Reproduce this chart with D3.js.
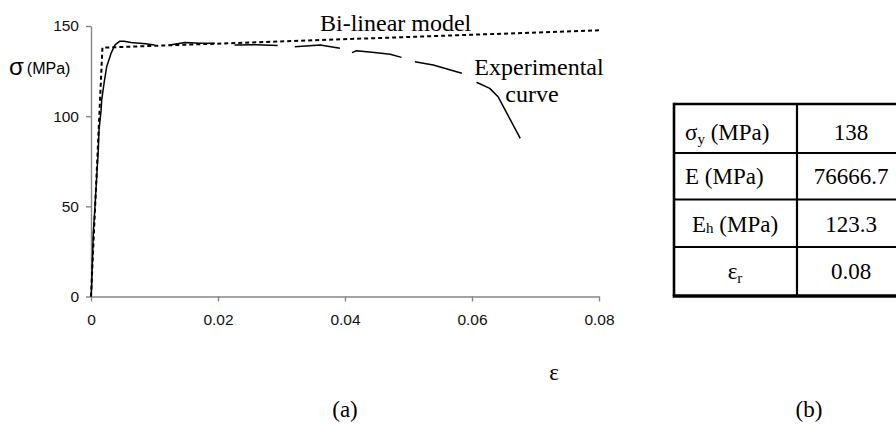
<!DOCTYPE html>
<html>
<head>
<meta charset="utf-8">
<script src="https://cdn.jsdelivr.net/npm/d3@7"></script>
<style>
  body { margin: 0; background: #fff; }
  svg { display: block; }
  .tick text { font-family: "Liberation Sans", Arial, sans-serif; font-size: 15.5px; fill: #111; }
  .serif { font-family: "Liberation Serif", "Times New Roman", serif; fill: #000; }
</style>
</head>
<body>
<div id="image"></div>
<script>
// courbe experimentale (null = coupure dans le trait)
var expStrain = [0, 0.0001, 0.00036, 0.00063, 0.0009, 0.00115, 0.00126, 0.00157, 0.00169, 0.00205, 0.00247, 0.00315, 0.00378, 0.0045, 0.0052, 0.0063, 0.0086, 0.0100,
                 null,
                 0.0124, 0.0148, 0.0172, 0.0195,
                 null,
                 0.0226, 0.0260, 0.0294,
                 null,
                 0.0321, 0.0361, 0.0392,
                 null,
                 0.0411, 0.0418, 0.0450, 0.0471, 0.0489,
                 null,
                 0.0510, 0.0539, 0.0584,
                 null,
                 0.0607, 0.0628, 0.0641, 0.0676];
var expStress = [0, 5.4, 35, 49.8, 66.4, 81.1, 92.3, 102.5, 109, 118.2, 127.4, 134.8, 139.5, 141.5, 141.6, 140.8, 140.2, 139.5,
                 null,
                 139.5, 140.8, 140.5, 140.4,
                 null,
                 139.5, 139.6, 139.2,
                 null,
                 138.5, 139.5, 137.6,
                 null,
                 135.2, 136.3, 135.2, 134.3, 132.6,
                 null,
                 130.2, 128.4, 123.8,
                 null,
                 118.8, 115.4, 110.8, 87.7];

// modele bi-lineaire
var bilStrain = [0, 0.0018, 0.08];
var bilStress = [0, 138, 147.6];

var xTicks = [0, 0.02, 0.04, 0.06, 0.08];
var xTickLabels = ["0", "0.02", "0.04", "0.06", "0.08"];
var yTicks = [0, 50, 100, 150];

// tableau (b)
var paramNames = [["σ", "y", " (MPa)"], ["E", "", " (MPa)"], ["E", "h", " (MPa)"], ["ε", "r", ""]];
var paramValues = ["138", "76666.7", "123.3", "0.08"];

var svg = d3.select("#image").append("svg").attr("width", 896).attr("height", 424);

var x = d3.scaleLinear().domain([0, 0.08]).range([91, 599]);
var y = d3.scaleLinear().domain([0, 150]).range([296.5, 26]);

// axe x
var gx = svg.append("g")
    .attr("transform", "translate(0," + y(0) + ")")
    .call(d3.axisBottom(x).tickValues(xTicks).tickFormat(function(d, i) { return xTickLabels[i]; })
        .tickSizeInner(5).tickSizeOuter(0).tickPadding(12));
gx.select(".domain").attr("stroke", "#858585").attr("stroke-width", 1.4);
gx.selectAll(".tick line").attr("stroke", "#858585").attr("stroke-width", 1.4);

// axe y
var gy = svg.append("g")
    .attr("transform", "translate(" + x(0) + ",0)")
    .call(d3.axisLeft(y).tickValues(yTicks).tickSizeInner(5).tickSizeOuter(0).tickPadding(7));
gy.select(".domain").attr("stroke", "#858585").attr("stroke-width", 1.4);
gy.selectAll(".tick line").attr("stroke", "#858585").attr("stroke-width", 1.4);

// titres des axes
var sl = svg.append("text").attr("x", 9).attr("y", 75)
    .style("font-family", "'Liberation Sans', Arial, sans-serif");
sl.append("tspan").style("font-size", "24px").text("σ");
sl.append("tspan").attr("dx", 3).attr("dy", -1).style("font-size", "16px").text("(MPa)");

svg.append("text").attr("class", "serif")
    .attr("x", 554).attr("y", 380).style("font-size", "23px")
    .attr("text-anchor", "middle").text("ε");

// courbes
var expData = expStrain.map(function(d, i) { return {e: d, s: expStress[i]}; });
var bilData = bilStrain.map(function(d, i) { return {e: d, s: bilStress[i]}; });

var line = d3.line()
    .defined(function(d) { return d.s !== null; })
    .x(function(d) { return x(d.e); })
    .y(function(d) { return y(d.s); });

svg.append("path").datum(bilData)
    .attr("d", line)
    .attr("fill", "none").attr("stroke", "#000")
    .attr("stroke-width", 2).attr("stroke-dasharray", "4,3");

svg.append("path").datum(expData)
    .attr("d", line)
    .attr("fill", "none").attr("stroke", "#000")
    .attr("stroke-width", 1.5).attr("stroke-linejoin", "round");

// annotations
svg.append("text").attr("class", "serif").attr("x", 320).attr("y", 31)
    .style("font-size", "24px").text("Bi-linear model");
svg.append("text").attr("class", "serif").attr("x", 539).attr("y", 75)
    .attr("text-anchor", "middle").style("font-size", "24px").text("Experimental");
svg.append("text").attr("class", "serif").attr("x", 532).attr("y", 102)
    .attr("text-anchor", "middle").style("font-size", "24px").text("curve");

svg.append("text").attr("class", "serif").attr("x", 345).attr("y", 417)
    .attr("text-anchor", "middle").style("font-size", "23px").text("(a)");
svg.append("text").attr("class", "serif").attr("x", 809).attr("y", 417)
    .attr("text-anchor", "middle").style("font-size", "23px").text("(b)");

// tableau
var rowTop = [104, 153, 199.5, 247, 296];
var baseOff = [36, 31, 32, 32];
var colL = 674, colM = 797, colR = 905;

var tb = svg.append("g");
for (var i = 1; i < rowTop.length - 1; i++) {
    tb.append("line").attr("x1", colL).attr("x2", colR)
        .attr("y1", rowTop[i]).attr("y2", rowTop[i])
        .attr("stroke", "#000").attr("stroke-width", 2.2);
}
tb.append("line").attr("x1", colM).attr("x2", colM)
    .attr("y1", rowTop[0]).attr("y2", rowTop[4])
    .attr("stroke", "#000").attr("stroke-width", 2.2);
tb.append("line").attr("x1", colL).attr("x2", colR)
    .attr("y1", rowTop[0]).attr("y2", rowTop[0])
    .attr("stroke", "#000").attr("stroke-width", 2.6);
tb.append("line").attr("x1", colL - 1.3).attr("x2", colR)
    .attr("y1", rowTop[4]).attr("y2", rowTop[4])
    .attr("stroke", "#000").attr("stroke-width", 3.6);
tb.append("line").attr("x1", colL).attr("x2", colL)
    .attr("y1", rowTop[0] - 1.3).attr("y2", rowTop[4])
    .attr("stroke", "#000").attr("stroke-width", 2.6);

paramNames.forEach(function(p, i) {
    var centered = i >= 2;
    var t = tb.append("text").attr("class", "serif")
        .attr("x", centered ? 735 : 685)
        .attr("y", rowTop[i] + baseOff[i])
        .attr("text-anchor", centered ? "middle" : "start")
        .style("font-size", "23px");
    t.append("tspan").text(p[0]);
    if (p[1] !== "") {
        t.append("tspan").attr("dy", i == 2 ? 1 : 4).style("font-size", "15px").text(p[1]);
        t.append("tspan").attr("dy", i == 2 ? -1 : -4).text(p[2]);
    } else {
        t.append("tspan").text(p[2]);
    }
    tb.append("text").attr("class", "serif")
        .attr("x", 851).attr("y", rowTop[i] + baseOff[i])
        .attr("text-anchor", "middle").style("font-size", "23px")
        .text(paramValues[i]);
});
</script>
</body>
</html>
